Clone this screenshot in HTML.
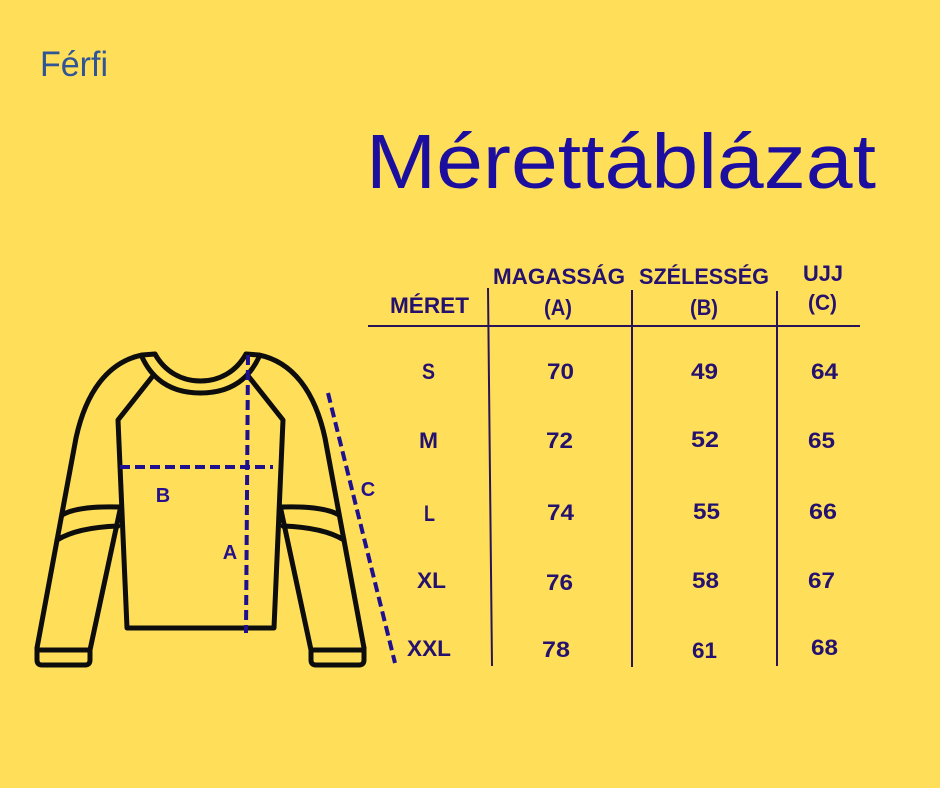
<!DOCTYPE html>
<html>
<head>
<meta charset="utf-8">
<style>
html,body{margin:0;padding:0;background:#FFDE59;}
svg{display:block;}
text{font-family:"Liberation Sans",sans-serif;}
</style>
</head>
<body>
<svg width="940" height="788" viewBox="0 0 940 788" xmlns="http://www.w3.org/2000/svg">
<rect x="0" y="0" width="940" height="788" fill="#FFDE59"/>

<!-- Titles -->
<text x="40" y="76" font-size="35" fill="#2F5597" textLength="68" lengthAdjust="spacingAndGlyphs">Férfi</text>
<text x="366" y="188" font-size="77" fill="#1C0FA0" textLength="510" lengthAdjust="spacingAndGlyphs">Mérettáblázat</text>

<!-- Sweater -->
<g fill="none" stroke="#0d0d0d" stroke-width="5" stroke-linecap="round" stroke-linejoin="round">
  <g>
    <path d="M155,354 L142,355 C108,362 86,392 76,438 L37,648"/>
    <path d="M37,648 L37,660 Q37,665 42,665 L85,665 Q90,665 90,660 L90,650 L37,650"/>
    <path d="M152,377 L118,420 L127,628 L200.5,628"/>
    <path d="M120,510 L90,650"/>
    <path d="M62,515 C72,509 90,506 120,507"/>
    <path d="M57,540 C70,532 90,527 118,526"/>
    <path d="M155,354 C165,372 182,381 200.5,381"/>
    <path d="M142,357 C155,385 178,393 200.5,393"/>
  </g>
  <g transform="translate(401,0) scale(-1,1)">
    <path d="M155,354 L142,355 C108,362 86,392 76,438 L37,648"/>
    <path d="M37,648 L37,660 Q37,665 42,665 L85,665 Q90,665 90,660 L90,650 L37,650"/>
    <path d="M152,377 L118,420 L127,628 L200.5,628"/>
    <path d="M120,510 L90,650"/>
    <path d="M62,515 C72,509 90,506 120,507"/>
    <path d="M57,540 C70,532 90,527 118,526"/>
    <path d="M155,354 C165,372 182,381 200.5,381"/>
    <path d="M142,357 C155,385 178,393 200.5,393"/>
  </g>
</g>

<!-- Dashed measurement lines -->
<g stroke="#1F1090" stroke-width="4" stroke-dasharray="10 5" fill="none">
  <path d="M248,355 L246,633"/>
  <path d="M120,467 L273,467"/>
  <path d="M328,393 L395,663"/>
</g>
<g font-weight="bold" font-size="20" fill="#25128A" text-anchor="middle">
  <text x="163" y="502">B</text>
  <text x="230" y="559">A</text>
  <text x="368" y="496">C</text>
</g>

<!-- Table lines -->
<g stroke="#2A1458" stroke-width="2">
  <line x1="368" y1="326" x2="860" y2="326"/>
  <line x1="488" y1="288" x2="492" y2="666"/>
  <line x1="632" y1="290" x2="632" y2="667"/>
  <line x1="777" y1="291" x2="777" y2="666"/>
</g>

<!-- Table header -->
<g font-weight="bold" font-size="22" fill="#24126E">
  <text x="493" y="284" textLength="132" lengthAdjust="spacingAndGlyphs">MAGASSÁG</text>
  <text x="639" y="284" textLength="130" lengthAdjust="spacingAndGlyphs">SZÉLESSÉG</text>
  <text x="803" y="281" textLength="40" lengthAdjust="spacingAndGlyphs">UJJ</text>
  <text x="390" y="313" textLength="79" lengthAdjust="spacingAndGlyphs">MÉRET</text>
  <text x="544" y="315" textLength="28" lengthAdjust="spacingAndGlyphs">(A)</text>
  <text x="690" y="315" textLength="28" lengthAdjust="spacingAndGlyphs">(B)</text>
  <text x="808" y="310" textLength="29" lengthAdjust="spacingAndGlyphs">(C)</text>
</g>

<!-- Table body -->
<g font-weight="bold" font-size="22" fill="#24126E">
  <text x="422" y="379" textLength="13" lengthAdjust="spacingAndGlyphs">S</text>
  <text x="547" y="379" textLength="27" lengthAdjust="spacingAndGlyphs">70</text>
  <text x="691" y="379" textLength="27" lengthAdjust="spacingAndGlyphs">49</text>
  <text x="811" y="379" textLength="27" lengthAdjust="spacingAndGlyphs">64</text>

  <text x="419" y="448" textLength="19" lengthAdjust="spacingAndGlyphs">M</text>
  <text x="546" y="448" textLength="27" lengthAdjust="spacingAndGlyphs">72</text>
  <text x="691" y="447" textLength="28" lengthAdjust="spacingAndGlyphs">52</text>
  <text x="808" y="448" textLength="27" lengthAdjust="spacingAndGlyphs">65</text>

  <text x="424" y="521" textLength="11" lengthAdjust="spacingAndGlyphs">L</text>
  <text x="547" y="520" textLength="27" lengthAdjust="spacingAndGlyphs">74</text>
  <text x="693" y="519" textLength="27" lengthAdjust="spacingAndGlyphs">55</text>
  <text x="809" y="519" textLength="28" lengthAdjust="spacingAndGlyphs">66</text>

  <text x="417" y="588" textLength="29" lengthAdjust="spacingAndGlyphs">XL</text>
  <text x="546" y="590" textLength="27" lengthAdjust="spacingAndGlyphs">76</text>
  <text x="692" y="588" textLength="27" lengthAdjust="spacingAndGlyphs">58</text>
  <text x="808" y="588" textLength="27" lengthAdjust="spacingAndGlyphs">67</text>

  <text x="407" y="656" textLength="44" lengthAdjust="spacingAndGlyphs">XXL</text>
  <text x="542" y="657" textLength="28" lengthAdjust="spacingAndGlyphs">78</text>
  <text x="692" y="658" textLength="25" lengthAdjust="spacingAndGlyphs">61</text>
  <text x="811" y="655" textLength="27" lengthAdjust="spacingAndGlyphs">68</text>
</g>
</svg>
</body>
</html>
